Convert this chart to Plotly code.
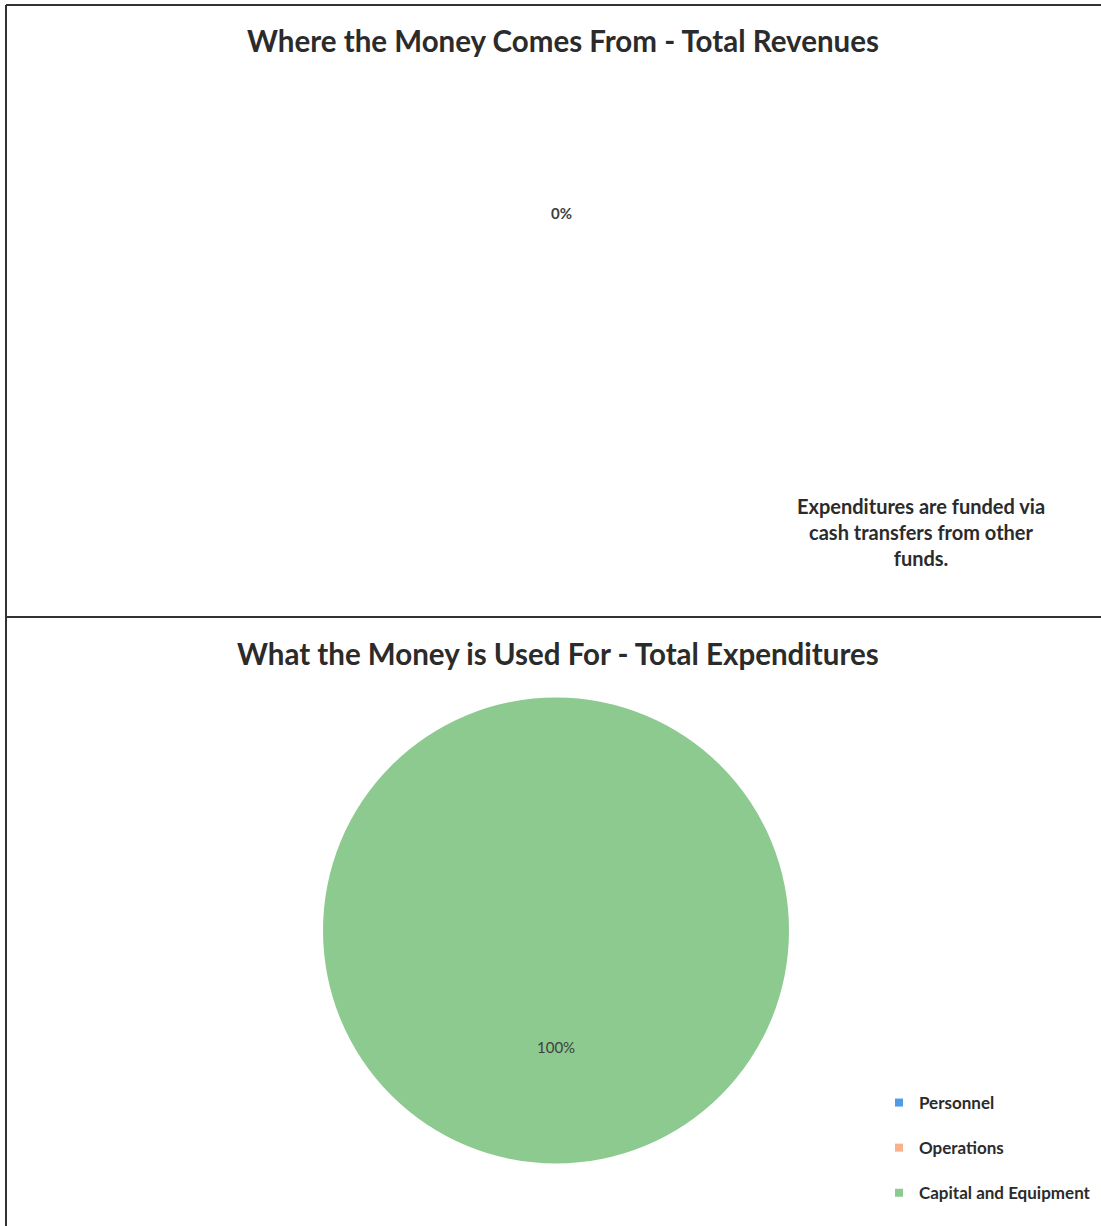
import plotly.graph_objects as go

W, H = 1101, 1226

# Data
revenue_labels = ["Revenues"]
revenue_values = [0]
revenue_pct_text = ["0%"]

exp_labels = ["Personnel", "Operations", "Capital and Equipment"]
exp_values = [0, 0, 100]
exp_colors = ["#4f9be6", "#f7b38e", "#8cca8f"]

title_top = "Where the Money Comes From - Total Revenues"
title_bottom = "What the Money is Used For - Total Expenditures"
note_text = "Expenditures are funded via<br>cash transfers from other<br>funds."

FONT = "Lato, 'Open Sans', sans-serif"
TXT = "#2b2b2b"


def px_y(py):
    return 1 - py / H


def px_x(px):
    return px / W


fig = go.Figure()

total = sum(exp_values)
fig.add_trace(go.Pie(
    labels=exp_labels,
    values=exp_values,
    marker=dict(colors=exp_colors, line=dict(width=0)),
    sort=False,
    direction="clockwise",
    rotation=0,
    textinfo="none",
    hoverinfo="label+percent",
    showlegend=False,
    domain=dict(x=[px_x(323), px_x(789)], y=[px_y(1165), px_y(696)]),
))

# Legend entries (dummy traces so vertical spacing can match)
for lab, col in zip(exp_labels, exp_colors):
    fig.add_trace(go.Scatter(
        x=[None], y=[None], mode="markers", name=lab,
        marker=dict(symbol="square", size=8, color=col),
        legendgroup=lab, showlegend=True,
    ))

ann_common = dict(xref="paper", yref="paper", showarrow=False,
                  xanchor="center", yanchor="middle")

# Percent labels
for lab, v in zip(exp_labels, exp_values):
    if total and v / total > 0.5:
        fig.add_annotation(x=px_x(556), y=px_y(1047),
                           text=f"{round(100 * v / total)}%",
                           font=dict(family=FONT, size=15, color="#404040"),
                           **ann_common)

fig.add_annotation(x=px_x(561), y=px_y(213), text=revenue_pct_text[0],
                   font=dict(family=FONT, size=15, color="#404040", weight="bold"),
                   **ann_common)

# Titles
fig.add_annotation(x=px_x(563), y=px_y(41), text=f"<b>{title_top}</b>",
                   font=dict(family=FONT, size=29.5, color=TXT), **ann_common)
fig.add_annotation(x=px_x(558), y=px_y(653), text=f"<b>{title_bottom}</b>",
                   font=dict(family=FONT, size=29.5, color=TXT), **ann_common)

# Note
fig.add_annotation(x=px_x(921), y=px_y(532), text=f"<b>{note_text}</b>", align="center",
                   font=dict(family=FONT, size=20, color=TXT), **ann_common)

# Borders
line = dict(color="#333333", width=2)
fig.add_shape(type="line", xref="paper", yref="paper", x0=px_x(6), x1=1, y0=px_y(5), y1=px_y(5), line=line)
fig.add_shape(type="line", xref="paper", yref="paper", x0=px_x(6), x1=px_x(6), y0=px_y(5), y1=0, line=line)
fig.add_shape(type="line", xref="paper", yref="paper", x0=px_x(6), x1=1, y0=px_y(617), y1=px_y(617), line=line)

fig.update_layout(
    width=W, height=H,
    margin=dict(l=0, r=0, t=0, b=0),
    paper_bgcolor="white", plot_bgcolor="white",
    xaxis=dict(visible=False), yaxis=dict(visible=False),
    legend=dict(x=px_x(879), y=px_y(1085), xanchor="left", yanchor="top",
                font=dict(family=FONT, size=17, color=TXT, weight="bold"),
                tracegroupgap=20, itemwidth=30, bgcolor="rgba(0,0,0,0)"),
    showlegend=True,
)

fig.write_html("out.html", config={"displayModeBar": False},
               post_script="document.body.style.margin='0';document.body.style.overflow='hidden';")
